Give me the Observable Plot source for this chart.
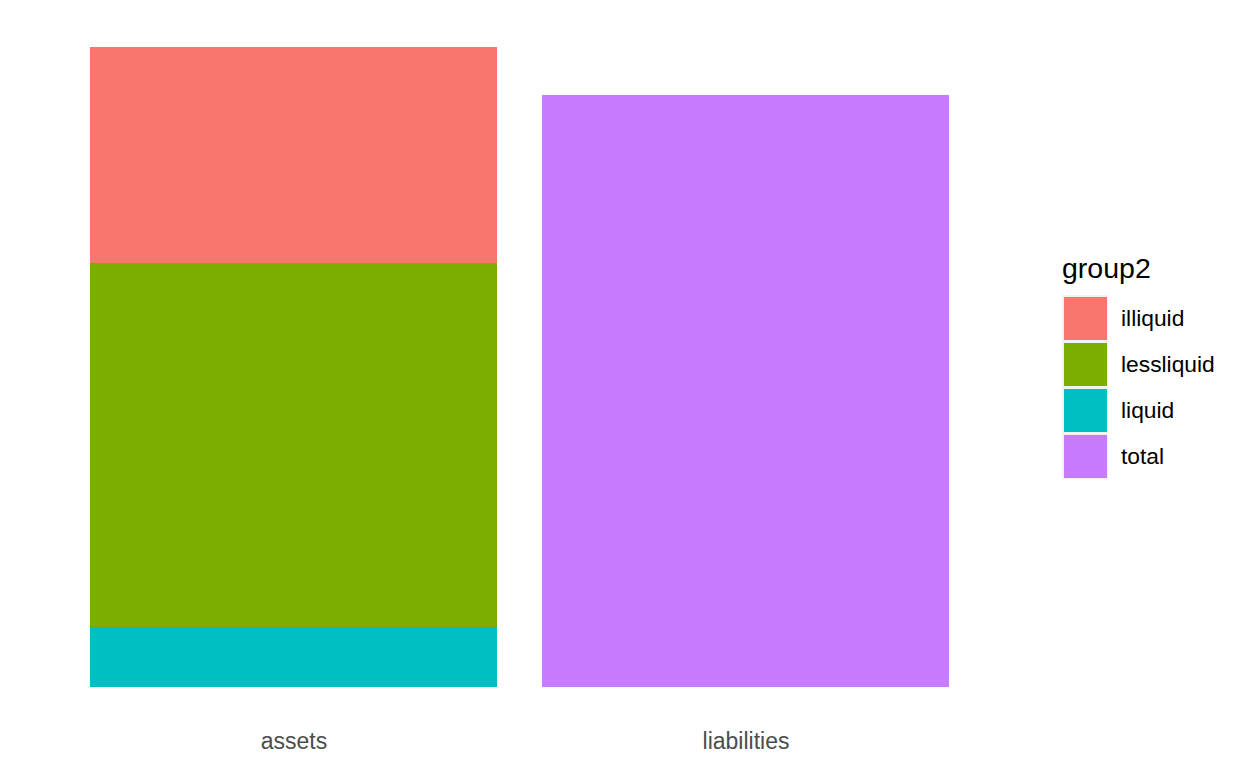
<!DOCTYPE html>
<html><head><meta charset="utf-8">
<script src="https://cdn.jsdelivr.net/npm/d3@7"></script>
<script src="https://cdn.jsdelivr.net/npm/@observablehq/plot@0.6"></script>
<style>
body{margin:0;background:#fff;font-family:"Liberation Sans",Arial,sans-serif;}
#wrap{position:relative;width:1248px;height:768px;overflow:hidden;}
#legend{position:absolute;left:1062px;top:254px;color:#000;}
#legend .title{font-size:28.5px;line-height:28.5px;height:28.5px;margin-bottom:12.5px;white-space:nowrap;}
#legend .row{display:flex;align-items:center;height:46px;}
#legend .key{width:46px;height:46px;background:#F2F2F2;position:relative;flex:none;}
#legend .key div{position:absolute;left:1.5px;top:1.5px;right:1.5px;bottom:1.5px;}
#legend .lab{font-size:22.8px;line-height:22.8px;margin-left:13px;white-space:nowrap;}
</style></head><body><div id="wrap"></div>
<script>
const categories = ["assets", "liabilities"];
const groups = ["illiquid", "lessliquid", "liquid", "total"];
const colors = ["#F8766D", "#7CAE00", "#00BFC4", "#C77CFF"];
const barCategory = ["assets", "assets", "assets", "liabilities"];
const barGroup = ["illiquid", "lessliquid", "liquid", "total"];
const barValue = [33.7, 56.9, 9.4, 92.5];
const stackOrder = ["liquid", "lessliquid", "illiquid", "total"];
const legendTitle = "group2";

const data = barValue.map((v, i) => ({category: barCategory[i], group: barGroup[i], value: v}));
const totals = d3.rollup(data, v => d3.sum(v, d => d.value), d => d.category);
const maxTotal = d3.max(totals.values());
const pad = 0.05 * maxTotal;

const plot = Plot.plot({
  width: 1248,
  height: 768,
  marginLeft: 22,
  marginRight: 230.5,
  marginTop: 15,
  marginBottom: 49,
  style: {fontFamily: '"Liberation Sans", Arial, sans-serif', background: "#fff"},
  x: {domain: categories, paddingInner: 0.1, paddingOuter: 0.15, label: null},
  y: {domain: [-pad, maxTotal + pad], axis: null},
  color: {domain: groups, range: colors},
  marks: [
    Plot.barY(data, Plot.stackY({x: "category", y: "value", fill: "group", z: "group", order: stackOrder, inset: 0, shapeRendering: "crispEdges"})),
    Plot.axisX({tickSize: 0, tickPadding: 13, fontSize: 23, fill: "#4D4D4D", label: null})
  ]
});
const wrap = document.getElementById("wrap");
wrap.appendChild(plot);

const color = plot.scale("color");
const cmap = new Map(color.domain.map((d, i) => [d, color.range[i]]));
const legend = document.createElement("div");
legend.id = "legend";
const t = document.createElement("div");
t.className = "title";
t.textContent = legendTitle;
legend.appendChild(t);
for (const g of groups) {
  const row = document.createElement("div");
  row.className = "row";
  const key = document.createElement("div");
  key.className = "key";
  const inner = document.createElement("div");
  inner.style.background = cmap.get(g);
  key.appendChild(inner);
  const lab = document.createElement("div");
  lab.className = "lab";
  lab.textContent = g;
  row.appendChild(key);
  row.appendChild(lab);
  legend.appendChild(row);
}
wrap.appendChild(legend);
</script>
</body></html>
